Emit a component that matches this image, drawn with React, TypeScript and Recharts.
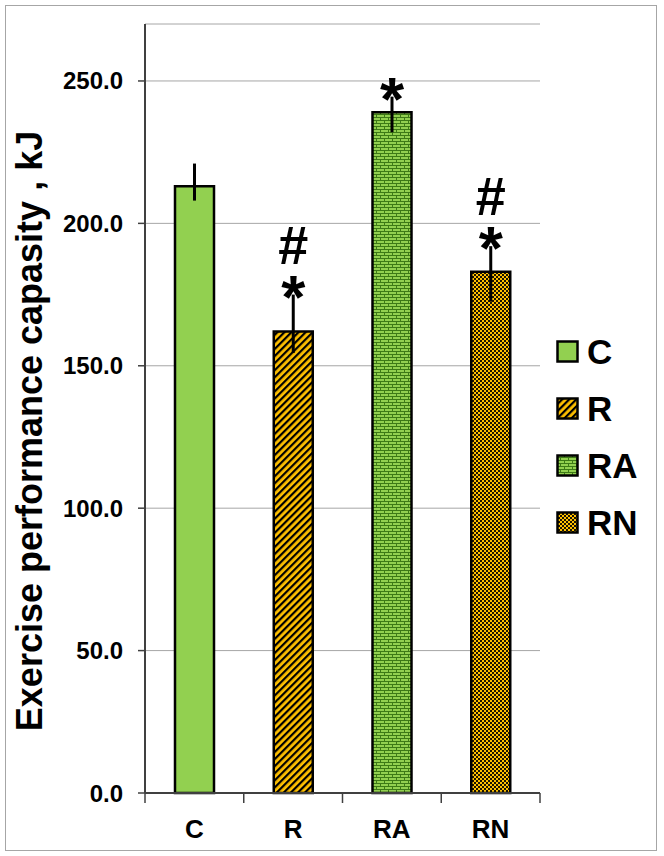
import React from "react";
import {
  BarChart,
  Bar,
  XAxis,
  YAxis,
  CartesianGrid,
  ErrorBar,
  Cell,
  LabelList,
  Legend,
} from "recharts";

const categories = ["C", "R", "RA", "RN"];
const means = [213, 162, 239, 183];
const errLow = [5, 7.5, 7, 10.5];
const errHigh = [8, 13, 5.5, 9];
const stars = ["", "*", "*", "*"];
const hashes = ["", "#", "", "#"];
const yTicks = [0, 50, 100, 150, 200, 250];

const FILLS = ["#92d050", "url(#stripeR)", "url(#brickRA)", "url(#checkRN)"];
const FONT = "'Liberation Sans', Arial, sans-serif";
const AXIS = "#404040";

const W = 664;
const H = 856;
const MARGIN = { top: 24, right: 124, bottom: 0, left: 0 };
const Y_AXIS_W = 145;
const BAND = (W - MARGIN.right - Y_AXIS_W) / categories.length;

const data = categories.map((name, i) => ({
  name,
  value: means[i],
  err: [errLow[i], errHigh[i]],
}));

// significance marks (# over *) stacked just above the error bar
function Annotation(props: any) {
  const vb = props.viewBox || props;
  const x = vb.x ?? props.x;
  const y = vb.y ?? props.y;
  const width = vb.width ?? props.width;
  const height = vb.height ?? props.height;
  const i = categories.indexOf(props.value);
  if (i < 0 || (!stars[i] && !hashes[i])) return null;
  const px = height / means[i];
  const errTop = y - errHigh[i] * px;
  const cx = x + width / 2;
  return (
    <text x={cx} textAnchor="middle" fontFamily={FONT} fontWeight="bold" fill="#000">
      {hashes[i] && (
        <tspan x={cx} y={errTop - 31} fontSize={54}>
          {hashes[i]}
        </tspan>
      )}
      {stars[i] && (
        <tspan x={cx} y={errTop + 23} fontSize={62}>
          {stars[i]}
        </tspan>
      )}
    </text>
  );
}

// category label plus the tick marks that sit between categories
function CatTick(props: any) {
  const { x, y, payload, index } = props;
  const half = BAND / 2;
  const last = index === categories.length - 1;
  return (
    <g>
      <line x1={x - half} x2={x - half} y1={y} y2={y + 10} stroke={AXIS} strokeWidth={1.5} />
      {last && (
        <line x1={x + half} x2={x + half} y1={y} y2={y + 10} stroke={AXIS} strokeWidth={1.5} />
      )}
      <text
        x={x}
        y={y + 45}
        textAnchor="middle"
        fontFamily={FONT}
        fontWeight="bold"
        fontSize={26}
        fill="#000"
      >
        {payload.value}
      </text>
    </g>
  );
}

function LegendBox() {
  return (
    <div style={{ fontFamily: FONT }}>
      {categories.map((c, i) => (
        <div
          key={c}
          style={{ display: "flex", alignItems: "center", height: 57 }}
        >
          <svg width={23} height={23} style={{ marginRight: 8 }}>
            <rect
              x={1.5}
              y={1.5}
              width={20}
              height={20}
              fill={FILLS[i]}
              stroke="#000"
              strokeWidth={2.5}
            />
          </svg>
          <span style={{ fontSize: 35, fontWeight: "bold", color: "#000" }}>
            {c}
          </span>
        </div>
      ))}
    </div>
  );
}

function YLabel(props: any) {
  const vb = props.viewBox || { x: 0 };
  return (
    <text
      transform={`translate(${vb.x + 42}, 431) rotate(-90)`}
      textAnchor="middle"
      fontFamily={FONT}
      fontWeight="bold"
      fontSize={36}
      fill="#000"
    >
      Exercise performance capasity , kJ
    </text>
  );
}

export default function App() {
  return (
    <div style={{ position: "absolute", left: 0, top: 0, width: W, height: H }}>
      <div
        style={{
          position: "absolute",
          left: 5,
          top: 5,
          width: 652,
          height: 846,
          border: "1.5px solid #a6a6a6",
          boxSizing: "border-box",
        }}
      />
      <BarChart
        width={W}
        height={H}
        data={data}
        margin={MARGIN}
        style={{ position: "absolute", left: 0, top: 0 }}
      >
        <defs>
          <pattern
            id="stripeR"
            patternUnits="userSpaceOnUse"
            width={5}
            height={5}
            patternTransform="rotate(45)"
          >
            <rect width={5} height={5} fill="#ffc000" />
            <rect width={2.2} height={5} fill="#000" />
          </pattern>
          <pattern id="brickRA" patternUnits="userSpaceOnUse" width={8} height={6}>
            <rect width={8} height={6} fill="#92d050" />
            <path
              d="M0 0.5 H8 M0 3.5 H8 M0.5 0 V3 M4.5 3 V6"
              stroke="#3d7a16"
              strokeWidth={1}
              fill="none"
            />
          </pattern>
          <pattern id="checkRN" patternUnits="userSpaceOnUse" width={4} height={4}>
            <rect width={4} height={4} fill="#ffc000" />
            <rect width={2} height={2} fill="#1a1400" />
            <rect x={2} y={2} width={2} height={2} fill="#1a1400" />
          </pattern>
        </defs>
        <CartesianGrid vertical={false} stroke="#a6a6a6" strokeWidth={1} />
        <XAxis
          dataKey="name"
          height={63}
          tickLine={false}
          axisLine={{ stroke: AXIS, strokeWidth: 2 }}
          tickSize={0}
          tickMargin={0}
          tick={<CatTick />}
        />
        <XAxis
          xAxisId="top"
          orientation="top"
          dataKey="name"
          height={0}
          tick={false}
          tickLine={false}
          axisLine={{ stroke: AXIS, strokeWidth: 2 }}
        />
        <YAxis
          domain={[0, 270]}
          ticks={yTicks}
          width={Y_AXIS_W}
          tickSize={7}
          tickMargin={15}
          tickFormatter={(v: number) => v.toFixed(1)}
          tickLine={{ stroke: AXIS, strokeWidth: 1.5 }}
          axisLine={{ stroke: AXIS, strokeWidth: 2 }}
          tick={{ fontFamily: FONT, fontWeight: "bold", fontSize: 24, fill: "#000" }}
          label={<YLabel />}
        />
        <YAxis
          yAxisId="right"
          orientation="right"
          domain={[0, 270]}
          width={0}
          tick={false}
          tickLine={false}
          axisLine={{ stroke: AXIS, strokeWidth: 2 }}
        />
        <Legend
          layout="vertical"
          align="center"
          verticalAlign="middle"
          wrapperStyle={{ left: 556, top: 323, width: 104 }}
          content={() => <LegendBox />}
        />
        <Bar
          dataKey="value"
          barSize={39}
          stroke="#000"
          strokeWidth={2.5}
          isAnimationActive={false}
        >
          {data.map((d, i) => (
            <Cell key={d.name} fill={FILLS[i]} />
          ))}
          <ErrorBar dataKey="err" width={0} stroke="#000" strokeWidth={3} />
          <LabelList dataKey="name" content={<Annotation />} />
        </Bar>
      </BarChart>
    </div>
  );
}
